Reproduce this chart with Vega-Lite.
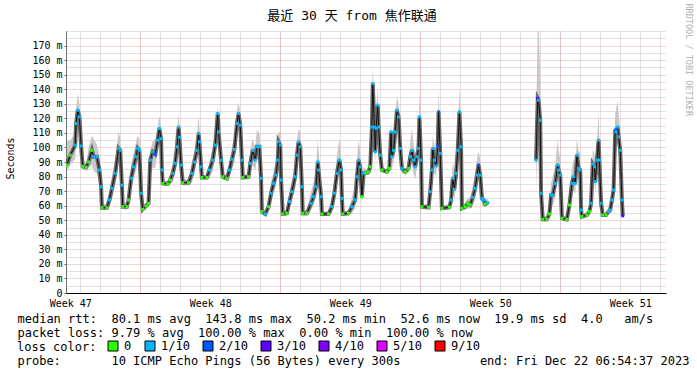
{
  "$schema": "https://vega.github.io/schema/vega-lite/v6.json",
  "width": 600,
  "height": 262,
  "autosize": {"type": "none"},
  "padding": {"left": 66, "top": 31, "right": 31, "bottom": 82},
  "background": "white",
  "title": {"text": "最近 30 天 from 焦作联通", "font": "DejaVu Sans Mono, Noto Sans CJK SC", "fontSize": 13, "fontWeight": "normal", "color": "#000000", "anchor": "middle", "frame": "group", "dx": -14, "baseline": "middle", "offset": -26},
  "data": {"values": [
    {"t":"2023-11-22T08:00","v":87.9,"lo":84,"hi":104,"loss":"0","seg":1},
    {"t":"2023-11-22T12:00","v":94.7,"lo":88,"hi":105,"loss":"0","seg":1},
    {"t":"2023-11-22T18:00","v":101.6,"lo":92,"hi":110,"loss":"1/10","seg":1},
    {"t":"2023-11-22T19:00","v":116.5,"lo":105,"hi":126,"loss":"1/10","seg":1},
    {"t":"2023-11-22T21:00","v":125.6,"lo":114,"hi":137,"loss":"1/10","seg":1},
    {"t":"2023-11-22T23:00","v":121,"lo":110,"hi":130,"loss":"1/10","seg":1},
    {"t":"2023-11-23T01:00","v":101,"lo":92,"hi":110,"loss":"1/10","seg":1},
    {"t":"2023-11-23T03:00","v":87,"lo":85,"hi":90,"loss":"0","seg":1},
    {"t":"2023-11-23T07:00","v":86.3,"lo":84,"hi":89,"loss":"0","seg":1},
    {"t":"2023-11-23T10:00","v":90,"lo":86,"hi":100,"loss":"0","seg":1},
    {"t":"2023-11-23T14:00","v":98,"lo":88,"hi":108,"loss":"0","seg":1},
    {"t":"2023-11-23T16:00","v":93.6,"lo":84,"hi":106,"loss":"1/10","seg":1},
    {"t":"2023-11-23T20:00","v":93.6,"lo":82,"hi":102,"loss":"1/10","seg":1},
    {"t":"2023-11-23T23:00","v":84.5,"lo":76,"hi":94,"loss":"1/10","seg":1},
    {"t":"2023-11-24T01:00","v":73,"lo":66,"hi":82,"loss":"1/10","seg":1},
    {"t":"2023-11-24T02:00","v":58.6,"lo":57,"hi":61,"loss":"0","seg":1},
    {"t":"2023-11-24T08:00","v":58.6,"lo":57,"hi":61,"loss":"0","seg":1},
    {"t":"2023-11-24T11:00","v":63.9,"lo":59,"hi":70,"loss":"1/10","seg":1},
    {"t":"2023-11-24T14:00","v":71.9,"lo":64,"hi":80,"loss":"1/10","seg":1},
    {"t":"2023-11-24T18:00","v":82.2,"lo":74,"hi":92,"loss":"1/10","seg":1},
    {"t":"2023-11-24T22:00","v":99.3,"lo":90,"hi":111,"loss":"1/10","seg":1},
    {"t":"2023-11-25T00:00","v":98,"lo":88,"hi":106,"loss":"1/10","seg":1},
    {"t":"2023-11-25T02:00","v":74,"lo":68,"hi":84,"loss":"1/10","seg":1},
    {"t":"2023-11-25T03:00","v":59.3,"lo":58,"hi":62,"loss":"0","seg":1},
    {"t":"2023-11-25T08:00","v":59.3,"lo":57,"hi":62,"loss":"0","seg":1},
    {"t":"2023-11-25T10:00","v":63.9,"lo":60,"hi":70,"loss":"0","seg":1},
    {"t":"2023-11-25T13:00","v":78.8,"lo":70,"hi":88,"loss":"1/10","seg":1},
    {"t":"2023-11-25T16:00","v":86.7,"lo":78,"hi":96,"loss":"1/10","seg":1},
    {"t":"2023-11-25T19:00","v":93.6,"lo":84,"hi":104,"loss":"1/10","seg":1},
    {"t":"2023-11-25T21:00","v":99.3,"lo":90,"hi":108,"loss":"1/10","seg":1},
    {"t":"2023-11-25T23:00","v":98,"lo":88,"hi":106,"loss":"1/10","seg":1},
    {"t":"2023-11-26T01:00","v":68.5,"lo":62,"hi":78,"loss":"1/10","seg":1},
    {"t":"2023-11-26T03:00","v":57.5,"lo":56,"hi":60,"loss":"0","seg":1},
    {"t":"2023-11-26T07:00","v":59.8,"lo":58,"hi":62,"loss":"0","seg":1},
    {"t":"2023-11-26T10:00","v":61.6,"lo":59,"hi":66,"loss":"0","seg":1},
    {"t":"2023-11-26T12:00","v":91.3,"lo":80,"hi":98,"loss":"1/10","seg":1},
    {"t":"2023-11-26T15:00","v":97,"lo":86,"hi":104,"loss":"1/10","seg":1},
    {"t":"2023-11-26T18:00","v":95.4,"lo":86,"hi":106,"loss":"2/10","seg":1},
    {"t":"2023-11-26T21:00","v":105,"lo":96,"hi":114,"loss":"1/10","seg":1},
    {"t":"2023-11-26T23:00","v":113,"lo":104,"hi":122,"loss":"1/10","seg":1},
    {"t":"2023-11-27T01:00","v":106,"lo":96,"hi":114,"loss":"1/10","seg":1},
    {"t":"2023-11-27T02:00","v":84.5,"lo":78,"hi":92,"loss":"1/10","seg":1},
    {"t":"2023-11-27T03:00","v":75.3,"lo":74,"hi":77,"loss":"0","seg":1},
    {"t":"2023-11-27T09:00","v":74.9,"lo":74,"hi":77,"loss":"0","seg":1},
    {"t":"2023-11-27T12:00","v":77.6,"lo":75,"hi":82,"loss":"0","seg":1},
    {"t":"2023-11-27T15:00","v":82.2,"lo":76,"hi":90,"loss":"1/10","seg":1},
    {"t":"2023-11-27T18:00","v":89,"lo":82,"hi":98,"loss":"1/10","seg":1},
    {"t":"2023-11-27T20:00","v":100.5,"lo":92,"hi":110,"loss":"1/10","seg":1},
    {"t":"2023-11-27T22:00","v":114,"lo":104,"hi":123,"loss":"1/10","seg":1},
    {"t":"2023-11-27T23:00","v":107,"lo":98,"hi":116,"loss":"1/10","seg":1},
    {"t":"2023-11-28T01:00","v":87.9,"lo":80,"hi":96,"loss":"1/10","seg":1},
    {"t":"2023-11-28T03:00","v":75.8,"lo":74,"hi":78,"loss":"0","seg":1},
    {"t":"2023-11-28T10:00","v":75.8,"lo":74,"hi":78,"loss":"0","seg":1},
    {"t":"2023-11-28T14:00","v":82.2,"lo":76,"hi":90,"loss":"1/10","seg":1},
    {"t":"2023-11-28T17:00","v":90,"lo":82,"hi":98,"loss":"1/10","seg":1},
    {"t":"2023-11-28T20:00","v":98,"lo":90,"hi":108,"loss":"1/10","seg":1},
    {"t":"2023-11-28T22:00","v":109.6,"lo":100,"hi":122,"loss":"1/10","seg":1},
    {"t":"2023-11-28T23:00","v":103.9,"lo":96,"hi":114,"loss":"1/10","seg":1},
    {"t":"2023-11-29T01:00","v":86.7,"lo":80,"hi":94,"loss":"1/10","seg":1},
    {"t":"2023-11-29T02:00","v":79.4,"lo":78,"hi":81,"loss":"0","seg":1},
    {"t":"2023-11-29T08:00","v":79.4,"lo":78,"hi":81,"loss":"0","seg":1},
    {"t":"2023-11-29T11:00","v":84.5,"lo":79,"hi":90,"loss":"1/10","seg":1},
    {"t":"2023-11-29T15:00","v":91.3,"lo":84,"hi":100,"loss":"1/10","seg":1},
    {"t":"2023-11-29T18:00","v":101.6,"lo":92,"hi":112,"loss":"1/10","seg":1},
    {"t":"2023-11-29T21:00","v":123.3,"lo":112,"hi":128,"loss":"1/10","seg":1},
    {"t":"2023-11-29T22:00","v":110.7,"lo":102,"hi":120,"loss":"1/10","seg":1},
    {"t":"2023-11-30T01:00","v":91.3,"lo":84,"hi":100,"loss":"1/10","seg":1},
    {"t":"2023-11-30T03:00","v":79.9,"lo":78,"hi":82,"loss":"0","seg":1},
    {"t":"2023-11-30T08:00","v":78.8,"lo":77,"hi":81,"loss":"0","seg":1},
    {"t":"2023-11-30T11:00","v":84.5,"lo":79,"hi":90,"loss":"1/10","seg":1},
    {"t":"2023-11-30T14:00","v":91.8,"lo":84,"hi":100,"loss":"1/10","seg":1},
    {"t":"2023-11-30T17:00","v":98.6,"lo":90,"hi":108,"loss":"1/10","seg":1},
    {"t":"2023-11-30T20:00","v":116.5,"lo":106,"hi":126,"loss":"1/10","seg":1},
    {"t":"2023-11-30T22:00","v":123.3,"lo":112,"hi":131,"loss":"1/10","seg":1},
    {"t":"2023-12-01T00:00","v":115.3,"lo":106,"hi":124,"loss":"1/10","seg":1},
    {"t":"2023-12-01T02:00","v":91.3,"lo":84,"hi":100,"loss":"1/10","seg":1},
    {"t":"2023-12-01T03:00","v":79.4,"lo":78,"hi":81,"loss":"0","seg":1},
    {"t":"2023-12-01T10:00","v":79.9,"lo":78,"hi":82,"loss":"0","seg":1},
    {"t":"2023-12-01T12:00","v":89,"lo":82,"hi":98,"loss":"1/10","seg":1},
    {"t":"2023-12-01T15:00","v":98,"lo":88,"hi":106,"loss":"1/10","seg":1},
    {"t":"2023-12-01T18:00","v":91.3,"lo":84,"hi":100,"loss":"1/10","seg":1},
    {"t":"2023-12-01T20:00","v":100.5,"lo":92,"hi":112,"loss":"1/10","seg":1},
    {"t":"2023-12-01T23:00","v":100.5,"lo":92,"hi":110,"loss":"1/10","seg":1},
    {"t":"2023-12-02T01:00","v":78.8,"lo":70,"hi":88,"loss":"1/10","seg":1},
    {"t":"2023-12-02T02:00","v":55.9,"lo":54,"hi":58,"loss":"0","seg":1},
    {"t":"2023-12-02T06:00","v":54.3,"lo":53,"hi":57,"loss":"1/10","seg":1},
    {"t":"2023-12-02T10:00","v":59.3,"lo":56,"hi":63,"loss":"0","seg":1},
    {"t":"2023-12-02T13:00","v":68.5,"lo":62,"hi":76,"loss":"1/10","seg":1},
    {"t":"2023-12-02T16:00","v":75.3,"lo":68,"hi":84,"loss":"1/10","seg":1},
    {"t":"2023-12-02T19:00","v":81,"lo":74,"hi":90,"loss":"1/10","seg":1},
    {"t":"2023-12-02T21:00","v":91.3,"lo":84,"hi":100,"loss":"1/10","seg":1},
    {"t":"2023-12-02T22:00","v":103.9,"lo":94,"hi":111,"loss":"1/10","seg":1},
    {"t":"2023-12-03T00:00","v":101.6,"lo":92,"hi":110,"loss":"1/10","seg":1},
    {"t":"2023-12-03T01:00","v":77.6,"lo":70,"hi":86,"loss":"1/10","seg":1},
    {"t":"2023-12-03T03:00","v":54.3,"lo":53,"hi":56,"loss":"0","seg":1},
    {"t":"2023-12-03T08:00","v":54.8,"lo":53,"hi":57,"loss":"0","seg":1},
    {"t":"2023-12-03T11:00","v":62.8,"lo":58,"hi":70,"loss":"1/10","seg":1},
    {"t":"2023-12-03T14:00","v":69.6,"lo":62,"hi":78,"loss":"1/10","seg":1},
    {"t":"2023-12-03T18:00","v":79.9,"lo":72,"hi":90,"loss":"1/10","seg":1},
    {"t":"2023-12-03T20:00","v":94.7,"lo":86,"hi":104,"loss":"1/10","seg":1},
    {"t":"2023-12-03T22:00","v":103.9,"lo":94,"hi":113,"loss":"1/10","seg":1},
    {"t":"2023-12-04T00:00","v":100.5,"lo":92,"hi":110,"loss":"1/10","seg":1},
    {"t":"2023-12-04T02:00","v":73,"lo":66,"hi":82,"loss":"1/10","seg":1},
    {"t":"2023-12-04T03:00","v":54.8,"lo":53,"hi":57,"loss":"0","seg":1},
    {"t":"2023-12-04T08:00","v":54.8,"lo":53,"hi":57,"loss":"0","seg":1},
    {"t":"2023-12-04T13:00","v":61.6,"lo":57,"hi":70,"loss":"1/10","seg":1},
    {"t":"2023-12-04T16:00","v":66.2,"lo":60,"hi":76,"loss":"1/10","seg":1},
    {"t":"2023-12-04T19:00","v":73,"lo":66,"hi":84,"loss":"1/10","seg":1},
    {"t":"2023-12-04T21:00","v":90,"lo":80,"hi":106,"loss":"1/10","seg":1},
    {"t":"2023-12-04T22:00","v":84.5,"lo":76,"hi":98,"loss":"1/10","seg":1},
    {"t":"2023-12-05T01:00","v":66.2,"lo":60,"hi":76,"loss":"1/10","seg":1},
    {"t":"2023-12-05T02:00","v":54.3,"lo":53,"hi":56,"loss":"0","seg":1},
    {"t":"2023-12-05T10:00","v":54.3,"lo":53,"hi":56,"loss":"0","seg":1},
    {"t":"2023-12-05T14:00","v":59.3,"lo":55,"hi":66,"loss":"1/10","seg":1},
    {"t":"2023-12-05T17:00","v":68.5,"lo":62,"hi":78,"loss":"1/10","seg":1},
    {"t":"2023-12-05T20:00","v":82.2,"lo":74,"hi":94,"loss":"1/10","seg":1},
    {"t":"2023-12-05T23:00","v":91.3,"lo":82,"hi":106,"loss":"1/10","seg":1},
    {"t":"2023-12-06T01:00","v":84.5,"lo":76,"hi":96,"loss":"1/10","seg":1},
    {"t":"2023-12-06T02:00","v":65,"lo":59,"hi":74,"loss":"1/10","seg":1},
    {"t":"2023-12-06T03:00","v":54.3,"lo":53,"hi":56,"loss":"0","seg":1},
    {"t":"2023-12-06T10:00","v":54.8,"lo":53,"hi":57,"loss":"0","seg":1},
    {"t":"2023-12-06T14:00","v":59.3,"lo":55,"hi":66,"loss":"1/10","seg":1},
    {"t":"2023-12-06T18:00","v":63.9,"lo":58,"hi":72,"loss":"1/10","seg":1},
    {"t":"2023-12-06T20:00","v":79.9,"lo":72,"hi":92,"loss":"1/10","seg":1},
    {"t":"2023-12-06T22:00","v":91.3,"lo":82,"hi":105,"loss":"1/10","seg":1},
    {"t":"2023-12-07T00:00","v":86.7,"lo":78,"hi":98,"loss":"1/10","seg":1},
    {"t":"2023-12-07T02:00","v":66.2,"lo":60,"hi":76,"loss":"0","seg":1},
    {"t":"2023-12-07T04:00","v":82.2,"lo":78,"hi":86,"loss":"1/10","seg":1},
    {"t":"2023-12-07T07:00","v":82.6,"lo":81,"hi":85,"loss":"0","seg":1},
    {"t":"2023-12-07T10:00","v":83.3,"lo":81,"hi":86,"loss":"0","seg":1},
    {"t":"2023-12-07T12:00","v":86.7,"lo":83,"hi":92,"loss":"0","seg":1},
    {"t":"2023-12-07T14:00","v":114,"lo":104,"hi":124,"loss":"1/10","seg":1},
    {"t":"2023-12-07T15:00","v":143.9,"lo":130,"hi":155,"loss":"1/10","seg":1},
    {"t":"2023-12-07T17:00","v":114,"lo":100,"hi":130,"loss":"1/10","seg":1},
    {"t":"2023-12-07T18:00","v":97,"lo":90,"hi":112,"loss":"1/10","seg":1},
    {"t":"2023-12-07T19:00","v":113,"lo":102,"hi":126,"loss":"1/10","seg":1},
    {"t":"2023-12-07T21:00","v":129,"lo":116,"hi":140,"loss":"1/10","seg":1},
    {"t":"2023-12-07T22:00","v":114,"lo":104,"hi":126,"loss":"1/10","seg":1},
    {"t":"2023-12-08T00:00","v":94.7,"lo":86,"hi":104,"loss":"1/10","seg":1},
    {"t":"2023-12-08T02:00","v":84.5,"lo":83,"hi":87,"loss":"0","seg":1},
    {"t":"2023-12-08T08:00","v":83.3,"lo":82,"hi":85,"loss":"0","seg":1},
    {"t":"2023-12-08T11:00","v":85.6,"lo":83,"hi":90,"loss":"0","seg":1},
    {"t":"2023-12-08T13:00","v":110.7,"lo":96,"hi":118,"loss":"1/10","seg":1},
    {"t":"2023-12-08T14:00","v":93.6,"lo":86,"hi":104,"loss":"1/10","seg":1},
    {"t":"2023-12-08T16:00","v":98,"lo":90,"hi":108,"loss":"1/10","seg":1},
    {"t":"2023-12-08T18:00","v":110.7,"lo":100,"hi":122,"loss":"1/10","seg":1},
    {"t":"2023-12-08T20:00","v":125.6,"lo":114,"hi":135,"loss":"1/10","seg":1},
    {"t":"2023-12-08T22:00","v":121,"lo":110,"hi":130,"loss":"1/10","seg":1},
    {"t":"2023-12-09T00:00","v":99.3,"lo":90,"hi":110,"loss":"1/10","seg":1},
    {"t":"2023-12-09T02:00","v":85.6,"lo":82,"hi":90,"loss":"1/10","seg":1},
    {"t":"2023-12-09T06:00","v":83.3,"lo":82,"hi":85,"loss":"0","seg":1},
    {"t":"2023-12-09T10:00","v":85.6,"lo":83,"hi":88,"loss":"0","seg":1},
    {"t":"2023-12-09T12:00","v":93.6,"lo":86,"hi":104,"loss":"1/10","seg":1},
    {"t":"2023-12-09T14:00","v":98,"lo":88,"hi":113,"loss":"1/10","seg":1},
    {"t":"2023-12-09T16:00","v":91.3,"lo":82,"hi":102,"loss":"1/10","seg":1},
    {"t":"2023-12-09T18:00","v":86.7,"lo":78,"hi":96,"loss":"1/10","seg":1},
    {"t":"2023-12-09T20:00","v":93.6,"lo":86,"hi":104,"loss":"1/10","seg":1},
    {"t":"2023-12-09T22:00","v":99.3,"lo":90,"hi":112,"loss":"1/10","seg":1},
    {"t":"2023-12-09T23:00","v":121,"lo":108,"hi":139,"loss":"1/10","seg":1},
    {"t":"2023-12-10T01:00","v":91.3,"lo":84,"hi":104,"loss":"1/10","seg":1},
    {"t":"2023-12-10T02:00","v":59.3,"lo":58,"hi":61,"loss":"0","seg":1},
    {"t":"2023-12-10T10:00","v":58.9,"lo":57,"hi":61,"loss":"0","seg":1},
    {"t":"2023-12-10T12:00","v":69.6,"lo":63,"hi":78,"loss":"1/10","seg":1},
    {"t":"2023-12-10T14:00","v":84.5,"lo":76,"hi":94,"loss":"1/10","seg":1},
    {"t":"2023-12-10T15:00","v":99.3,"lo":88,"hi":108,"loss":"1/10","seg":1},
    {"t":"2023-12-10T17:00","v":91.3,"lo":82,"hi":102,"loss":"1/10","seg":1},
    {"t":"2023-12-10T19:00","v":87.2,"lo":80,"hi":98,"loss":"1/10","seg":1},
    {"t":"2023-12-10T21:00","v":100.9,"lo":92,"hi":114,"loss":"2/10","seg":1},
    {"t":"2023-12-10T22:00","v":124.4,"lo":112,"hi":140,"loss":"2/10","seg":1},
    {"t":"2023-12-11T00:00","v":95.9,"lo":86,"hi":108,"loss":"1/10","seg":1},
    {"t":"2023-12-11T02:00","v":58.2,"lo":57,"hi":60,"loss":"0","seg":1},
    {"t":"2023-12-11T11:00","v":58.9,"lo":57,"hi":61,"loss":"0","seg":1},
    {"t":"2023-12-11T13:00","v":63.9,"lo":59,"hi":72,"loss":"1/10","seg":1},
    {"t":"2023-12-11T15:00","v":78.8,"lo":70,"hi":90,"loss":"1/10","seg":1},
    {"t":"2023-12-11T17:00","v":71.2,"lo":64,"hi":84,"loss":"1/10","seg":1},
    {"t":"2023-12-11T19:00","v":82.2,"lo":74,"hi":94,"loss":"1/10","seg":1},
    {"t":"2023-12-11T21:00","v":98,"lo":88,"hi":112,"loss":"1/10","seg":1},
    {"t":"2023-12-11T23:00","v":124.4,"lo":110,"hi":140,"loss":"1/10","seg":1},
    {"t":"2023-12-12T01:00","v":100.5,"lo":90,"hi":112,"loss":"1/10","seg":1},
    {"t":"2023-12-12T02:00","v":58.2,"lo":57,"hi":60,"loss":"0","seg":1},
    {"t":"2023-12-12T06:00","v":59.3,"lo":57,"hi":62,"loss":"0","seg":1},
    {"t":"2023-12-12T09:00","v":61.6,"lo":58,"hi":65,"loss":"0","seg":1},
    {"t":"2023-12-12T12:00","v":60.5,"lo":58,"hi":66,"loss":"0","seg":1},
    {"t":"2023-12-12T15:00","v":65.7,"lo":60,"hi":74,"loss":"1/10","seg":1},
    {"t":"2023-12-12T18:00","v":71.9,"lo":65,"hi":82,"loss":"1/10","seg":1},
    {"t":"2023-12-12T20:00","v":81,"lo":73,"hi":92,"loss":"1/10","seg":1},
    {"t":"2023-12-12T22:00","v":87.9,"lo":80,"hi":97,"loss":"2/10","seg":1},
    {"t":"2023-12-13T00:00","v":81,"lo":74,"hi":92,"loss":"1/10","seg":1},
    {"t":"2023-12-13T02:00","v":65,"lo":60,"hi":72,"loss":"1/10","seg":1},
    {"t":"2023-12-13T04:00","v":63.9,"lo":60,"hi":68,"loss":"1/10","seg":1},
    {"t":"2023-12-13T06:00","v":61.2,"lo":59,"hi":64,"loss":"0","seg":1},
    {"t":"2023-12-13T09:00","v":62.1,"lo":60,"hi":65,"loss":"1/10","seg":1},
    {"t":"2023-12-15T19:00","v":91.3,"lo":68,"hi":115,"loss":"1/10","seg":2},
    {"t":"2023-12-15T21:00","v":133.6,"lo":110,"hi":185,"loss":"3/10","seg":2},
    {"t":"2023-12-15T22:00","v":132.5,"lo":112,"hi":185,"loss":"1/10","seg":2},
    {"t":"2023-12-16T00:00","v":118.7,"lo":100,"hi":150,"loss":"1/10","seg":2},
    {"t":"2023-12-16T01:00","v":68.5,"lo":60,"hi":80,"loss":"1/10","seg":2},
    {"t":"2023-12-16T03:00","v":50.6,"lo":49,"hi":53,"loss":"0","seg":2},
    {"t":"2023-12-16T08:00","v":50.6,"lo":49,"hi":53,"loss":"0","seg":2},
    {"t":"2023-12-16T11:00","v":54.3,"lo":52,"hi":58,"loss":"0","seg":2},
    {"t":"2023-12-16T13:00","v":67.3,"lo":58,"hi":76,"loss":"1/10","seg":2},
    {"t":"2023-12-16T15:00","v":67.3,"lo":60,"hi":80,"loss":"1/10","seg":2},
    {"t":"2023-12-16T18:00","v":75.3,"lo":66,"hi":88,"loss":"1/10","seg":2},
    {"t":"2023-12-16T21:00","v":87.9,"lo":78,"hi":106,"loss":"1/10","seg":2},
    {"t":"2023-12-16T22:00","v":84.5,"lo":76,"hi":98,"loss":"1/10","seg":2},
    {"t":"2023-12-17T00:00","v":81,"lo":72,"hi":92,"loss":"1/10","seg":2},
    {"t":"2023-12-17T02:00","v":51.3,"lo":50,"hi":53,"loss":"0","seg":2},
    {"t":"2023-12-17T08:00","v":50.6,"lo":49,"hi":53,"loss":"0","seg":2},
    {"t":"2023-12-17T11:00","v":60.5,"lo":56,"hi":66,"loss":"0","seg":2},
    {"t":"2023-12-17T14:00","v":75.3,"lo":66,"hi":86,"loss":"1/10","seg":2},
    {"t":"2023-12-17T16:00","v":79.9,"lo":70,"hi":92,"loss":"1/10","seg":2},
    {"t":"2023-12-17T18:00","v":75.3,"lo":68,"hi":88,"loss":"1/10","seg":2},
    {"t":"2023-12-17T20:00","v":94.7,"lo":84,"hi":106,"loss":"1/10","seg":2},
    {"t":"2023-12-17T22:00","v":85.6,"lo":78,"hi":98,"loss":"1/10","seg":2},
    {"t":"2023-12-18T00:00","v":84.5,"lo":76,"hi":96,"loss":"1/10","seg":2},
    {"t":"2023-12-18T01:00","v":57,"lo":54,"hi":62,"loss":"1/10","seg":2},
    {"t":"2023-12-18T02:00","v":52.5,"lo":51,"hi":54,"loss":"0","seg":2},
    {"t":"2023-12-18T08:00","v":53.6,"lo":52,"hi":55,"loss":"0","seg":2},
    {"t":"2023-12-18T11:00","v":55.9,"lo":54,"hi":58,"loss":"0","seg":2},
    {"t":"2023-12-18T13:00","v":61.6,"lo":57,"hi":68,"loss":"1/10","seg":2},
    {"t":"2023-12-18T15:00","v":88.6,"lo":76,"hi":98,"loss":"1/10","seg":2},
    {"t":"2023-12-18T17:00","v":86.7,"lo":76,"hi":96,"loss":"1/10","seg":2},
    {"t":"2023-12-18T18:00","v":76.5,"lo":68,"hi":88,"loss":"1/10","seg":2},
    {"t":"2023-12-18T20:00","v":91.3,"lo":82,"hi":104,"loss":"1/10","seg":2},
    {"t":"2023-12-18T22:00","v":105,"lo":94,"hi":124,"loss":"1/10","seg":2},
    {"t":"2023-12-18T23:00","v":91.3,"lo":82,"hi":106,"loss":"1/10","seg":2},
    {"t":"2023-12-19T01:00","v":61.6,"lo":56,"hi":70,"loss":"1/10","seg":2},
    {"t":"2023-12-19T03:00","v":53.6,"lo":52,"hi":55,"loss":"0","seg":2},
    {"t":"2023-12-19T07:00","v":53.6,"lo":52,"hi":55,"loss":"0","seg":2},
    {"t":"2023-12-19T10:00","v":55.9,"lo":54,"hi":59,"loss":"1/10","seg":2},
    {"t":"2023-12-19T12:00","v":57,"lo":55,"hi":62,"loss":"1/10","seg":2},
    {"t":"2023-12-19T14:00","v":63.9,"lo":58,"hi":72,"loss":"1/10","seg":2},
    {"t":"2023-12-19T16:00","v":70.8,"lo":64,"hi":82,"loss":"1/10","seg":2},
    {"t":"2023-12-19T18:00","v":111.9,"lo":100,"hi":124,"loss":"2/10","seg":2},
    {"t":"2023-12-19T19:00","v":110.7,"lo":100,"hi":126,"loss":"1/10","seg":2},
    {"t":"2023-12-19T21:00","v":114,"lo":102,"hi":132,"loss":"1/10","seg":2},
    {"t":"2023-12-19T22:00","v":107.3,"lo":98,"hi":124,"loss":"1/10","seg":2},
    {"t":"2023-12-20T00:00","v":98,"lo":88,"hi":110,"loss":"1/10","seg":2},
    {"t":"2023-12-20T02:00","v":63.9,"lo":58,"hi":72,"loss":"1/10","seg":2},
    {"t":"2023-12-20T03:00","v":53,"lo":52,"hi":54,"loss":"3/10","seg":2}
  ]},
  "layer": [
    {
      "mark": {"type": "area", "color": "#c8c8c8", "opacity": 1, "clip": true},
      "encoding": {
        "x": {"field": "t", "type": "temporal",
          "scale": {"domain": [{"year": 2023, "month": 11, "date": 22, "hours": 6, "minutes": 54, "seconds": 37}, {"year": 2023, "month": 12, "date": 22, "hours": 6, "minutes": 54, "seconds": 37}]},
          "axis": {"orient": "bottom", "tickCount": {"interval": "day", "step": 1}, "grid": true, "gridColor": "#c4c4c4", "gridDash": [1, 1], "gridWidth": 1, "labels": false, "ticks": false, "domain": false,
            "title": "probe:\u00a0\u00a0\u00a0\u00a0\u00a0\u00a0\u00a010 ICMP Echo Pings (56 Bytes) every 300s\u00a0\u00a0\u00a0\u00a0\u00a0\u00a0\u00a0\u00a0\u00a0\u00a0\u00a0end: Fri Dec 22 06:54:37 2023",
            "titleFont": "DejaVu Sans Mono", "titleFontSize": 12, "titleFontWeight": "normal", "titleColor": "#000000",
            "titleAlign": "left", "titleAnchor": "start", "titleBaseline": "top", "titleX": -49, "titleY": 62}},
        "y": {"field": "lo", "type": "quantitative", "scale": {"domain": [0, 180], "nice": false},
          "axis": {"orient": "left", "values": [5, 15, 25, 35, 45, 55, 65, 75, 85, 95, 105, 115, 125, 135, 145, 155, 165, 175, 180], "grid": true, "gridColor": "#c4c4c4", "gridDash": [1, 1], "labels": false, "ticks": false, "domain": false, "title": null}},
        "y2": {"field": "hi"},
        "detail": {"field": "seg"}
      }
    },
    {
      "mark": {"type": "line", "color": "#6a6a6a", "strokeWidth": 4, "clip": true},
      "encoding": {
        "x": {"field": "t", "type": "temporal",
          "axis": {"orient": "bottom", "tickCount": {"interval": "week", "step": 1}, "grid": true, "gridColor": "#eca8a8", "gridDash": [1, 1], "gridWidth": 1, "labels": false, "ticks": false, "domain": false, "title": null}},
        "y": {"field": "v", "type": "quantitative",
          "axis": {"orient": "left", "values": [0, 10, 20, 30, 40, 50, 60, 70, 80, 90, 100, 110, 120, 130, 140, 150, 160, 170], "grid": true, "gridColor": "#eca8a8", "gridDash": [1, 1],
            "labelExpr": "datum.value == 0 ? '0\u00a0\u00a0' : datum.value + ' m'",
            "labelFont": "DejaVu Sans Mono", "labelFontSize": 10, "labelColor": "#000000", "labelPadding": 2,
            "ticks": true, "tickSize": 2, "tickColor": "#606060", "domain": true, "domainColor": "#707070",
            "title": "Seconds", "titleFont": "DejaVu Sans Mono", "titleFontSize": 10, "titleFontWeight": "normal", "titleColor": "#000000",
            "titleBaseline": "middle", "titleX": -56, "titleY": 127}},
        "detail": {"field": "seg"}
      }
    },
    {
      "mark": {"type": "line", "color": "#111111", "strokeWidth": 1, "clip": true},
      "encoding": {
        "x": {"field": "t", "type": "temporal",
          "axis": {"orient": "bottom",
            "values": [{"year": 2023, "month": 11, "date": 22, "hours": 12}, {"year": 2023, "month": 11, "date": 29, "hours": 12}, {"year": 2023, "month": 12, "date": 6, "hours": 12}, {"year": 2023, "month": 12, "date": 13, "hours": 12}, {"year": 2023, "month": 12, "date": 20, "hours": 12}],
            "format": "Week %V", "formatType": "time",
            "grid": false, "ticks": false, "domain": true, "domainColor": "#000000", "domainWidth": 1,
            "labelFont": "DejaVu Sans Mono", "labelFontSize": 10, "labelColor": "#000000", "labelPadding": 5, "labelFlush": false, "labelOverlap": false,
            "title": ["median rtt:\u00a0\u00a080.1 ms avg\u00a0\u00a0143.8 ms max\u00a0\u00a050.2 ms min\u00a0\u00a052.6 ms now\u00a0\u00a019.9 ms sd\u00a0\u00a04.0\u00a0\u00a0\u00a0am/s", "packet loss: 9.79 % avg\u00a0\u00a0100.00 % max\u00a0\u00a00.00 % min\u00a0\u00a0100.00 % now"],
            "titleFont": "DejaVu Sans Mono", "titleFontSize": 12, "titleFontWeight": "normal", "titleColor": "#000000",
            "titleAlign": "left", "titleAnchor": "start", "titleBaseline": "top", "titleX": -49, "titleY": 20, "titleLineHeight": 14}},
        "y": {"field": "v", "type": "quantitative", "axis": null},
        "detail": {"field": "seg"}
      }
    },
    {
      "mark": {"type": "point", "shape": "square", "filled": true, "size": 9, "opacity": 1, "clip": true},
      "encoding": {
        "x": {"field": "t", "type": "temporal", "axis": null},
        "y": {"field": "v", "type": "quantitative",
          "axis": {"orient": "right", "title": "RRDTOOL / TOBI OETIKER", "titleAngle": 90, "titleAlign": "left", "titleBaseline": "middle", "titleX": 22, "titleY": -28,
            "titleFont": "DejaVu Sans Mono", "titleFontSize": 8.5, "titleFontWeight": "normal", "titleColor": "#b0b0b0",
            "labels": false, "ticks": false, "domain": false, "grid": false}},
        "color": {"field": "loss", "type": "nominal",
          "scale": {"domain": ["0", "1/10", "2/10", "3/10", "4/10", "5/10", "9/10"], "range": ["#26ff00", "#00b8ff", "#0059ff", "#5e00ff", "#7e00ff", "#dd00ff", "#ff0000"]},
          "legend": {"orient": "none", "legendX": -49, "legendY": 309, "direction": "horizontal", "title": "loss color:", "titleOrient": "left",
            "titleFont": "DejaVu Sans Mono", "titleFontSize": 12, "titleFontWeight": "normal", "titleColor": "#000000", "titlePadding": 10,
            "labelFont": "DejaVu Sans Mono", "labelFontSize": 12, "labelColor": "#000000", "labelOffset": 5, "columnPadding": 11,
            "symbolType": "square", "symbolSize": 100, "symbolStrokeColor": "#000000", "symbolStrokeWidth": 1, "symbolOpacity": 1}}
      }
    }
  ],
  "resolve": {"axis": {"x": "independent", "y": "independent"}},
  "config": {"view": {"stroke": null}}
}
